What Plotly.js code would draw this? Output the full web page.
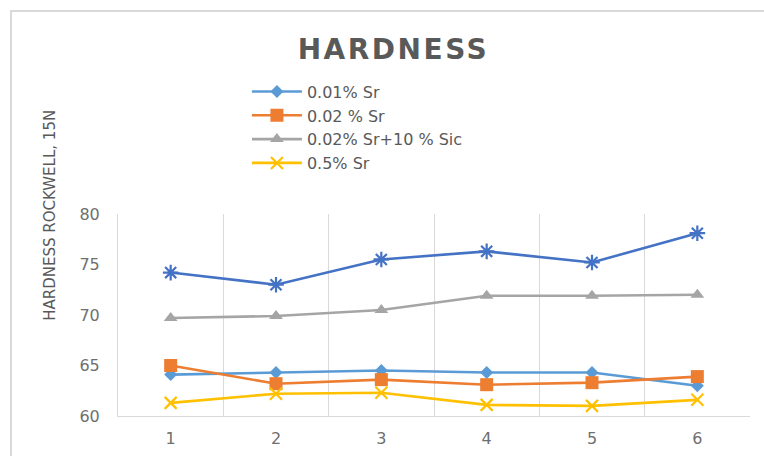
<!DOCTYPE html>
<html>
<head>
<meta charset="utf-8">
<script src="https://cdn.plot.ly/plotly-3.0.1.min.js"></script>
<style>
html, body { margin: 0; padding: 0; overflow: hidden; background: #ffffff; }
#wrap { position: relative; width: 764px; height: 456px; overflow: hidden; }
#chart { width: 764px; height: 456px; }
#frame { position: absolute; left: 10px; top: 10px; width: 800px; height: 500px; border: 2px solid #d9d9d9; pointer-events: none; }
.gtitle { letter-spacing: 2.5px; }
</style>
</head>
<body>
<div id="wrap">
<div id="chart"></div>
<div id="frame"></div>
</div>
<script>
// Data
const categories = ["1", "2", "3", "4", "5", "6"];
const seriesNames = ["0.01% Sr", "0.02 % Sr", "0.02% Sr+10 % Sic", "0.5% Sr", "Series 5"];
const sr001 = [64.1, 64.3, 64.5, 64.3, 64.3, 63.0];
const sr002 = [65.0, 63.2, 63.6, 63.1, 63.3, 63.9];
const sr002Sic = [69.7, 69.9, 70.5, 71.9, 71.9, 72.0];
const sr05 = [61.3, 62.2, 62.3, 61.1, 61.0, 61.6];
const series5 = [74.2, 73.0, 75.5, 76.3, 75.2, 78.1];
const yTicks = [60, 65, 70, 75, 80];

const colors = ["#5B9BD5", "#ED7D31", "#A5A5A5", "#FFC000", "#4472C4"];
const symbols = ["diamond", "square", "triangle-up", "x-thin-open", "asterisk-open"];
const sizes = [10, 13, 12, 12, 13];
const values = [sr001, sr002, sr002Sic, sr05, series5];

const traces = values.map((v, i) => ({
  type: "scatter",
  mode: "lines+markers",
  x: categories,
  y: v,
  name: seriesNames[i],
  legendgroup: "g" + i,
  showlegend: i < 4,
  line: { color: colors[i], width: 2.6 },
  marker: {
    symbol: symbols[i],
    size: sizes[i],
    color: colors[i],
    line: { color: colors[i], width: (i >= 3) ? 2.2 : 0 }
  }
}));

const FONT = "DejaVu Sans, Open Sans, sans-serif";

const layout = {
  width: 764,
  height: 456,
  paper_bgcolor: "#ffffff",
  plot_bgcolor: "#ffffff",
  margin: { l: 118, r: 14, t: 214, b: 40 },
  font: { family: FONT, color: "#595959" },
  title: {
    text: "<b>HARDNESS</b>",
    font: { size: 28, color: "#595959", family: FONT },
    x: 0.515, xanchor: "center",
    y: 0.892, yanchor: "middle", yref: "container"
  },
  showlegend: true,
  legend: {
    x: 0.204, xanchor: "left",
    y: 1.69, yanchor: "top",
    font: { size: 16, color: "#595959", family: FONT },
    tracegroupgap: 0,
    itemwidth: 50,
    bgcolor: "rgba(0,0,0,0)"
  },
  xaxis: {
    type: "category",
    range: [-0.5, 5.5],
    tickson: "boundaries",
    showgrid: true,
    gridcolor: "#d9d9d9",
    gridwidth: 1,
    showline: true,
    linecolor: "#d9d9d9",
    linewidth: 1,
    ticks: "",
    ticklabelstandoff: 8,
    tickfont: { size: 16, color: "#6f6f6f", family: FONT },
    zeroline: false,
    fixedrange: true
  },
  yaxis: {
    range: [60, 80],
    tickvals: yTicks,
    ticktext: yTicks.map(String),
    showgrid: false,
    showline: true,
    linecolor: "#d9d9d9",
    linewidth: 1,
    ticks: "",
    ticklabelstandoff: 14,
    tickfont: { size: 16, color: "#6f6f6f", family: FONT },
    zeroline: false,
    fixedrange: true
  },
  annotations: [{
    text: "HARDNESS ROCKWELL, 15N",
    xref: "paper", yref: "paper",
    x: -0.108, y: 0.995,
    xanchor: "center", yanchor: "middle",
    textangle: -90,
    showarrow: false,
    font: { size: 15, color: "#595959", family: FONT }
  }]
};

Plotly.newPlot("chart", traces, layout, { displayModeBar: false, staticPlot: true });
</script>
</body>
</html>
